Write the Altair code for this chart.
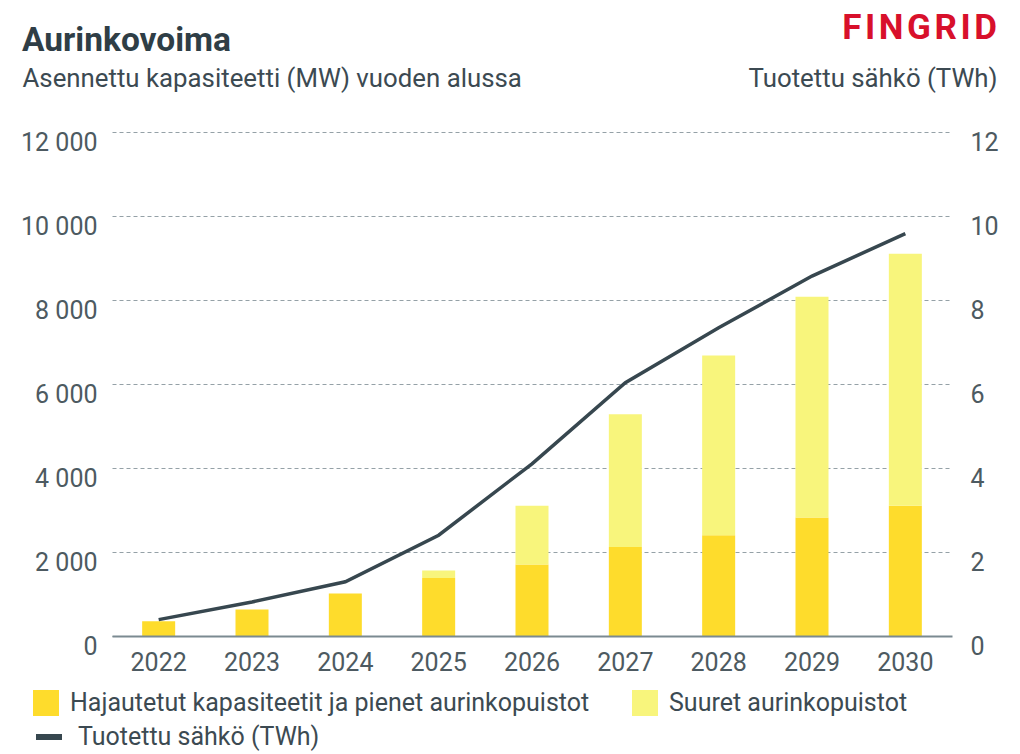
import altair as alt
import pandas as pd

years = ["2022", "2023", "2024", "2025", "2026", "2027", "2028", "2029", "2030"]
small_mw = [350, 630, 1010, 1380, 1700, 2120, 2400, 2820, 3100]
large_mw = [0, 0, 0, 180, 1400, 3160, 4280, 5260, 6000]
energy_twh = [0.39, 0.81, 1.29, 2.40, 4.10, 6.03, 7.34, 8.57, 9.58]

cat_small = "Hajautetut kapasiteetit ja pienet aurinkopuistot"
cat_large = "Suuret aurinkopuistot"
line_name = "Tuotettu sähkö (TWh)"

rows = []
for y, s, l in zip(years, small_mw, large_mw):
    rows.append({"year": y, "type": cat_small, "value": s, "ord": 0})
    rows.append({"year": y, "type": cat_large, "value": l, "ord": 1})
df_bars = pd.DataFrame(rows)
df_line = pd.DataFrame({"year": years, "twh": energy_twh, "series": [line_name] * len(years)})

FONT = "Roboto"
TXT = "#4d5a61"
DARK = "#37474f"

x_axis = alt.Axis(title=None, labelAngle=0, ticks=False, tickSize=0, labelFontSize=25,
                  labelColor=TXT, labelFont=FONT, labelPadding=34, labelBaseline="alphabetic",
                  domainColor="#7b8a91", domainWidth=2, grid=False, zindex=1)

bars = alt.Chart(df_bars).mark_bar(size=33).encode(
    x=alt.X("year:N", sort=years, axis=x_axis, scale=alt.Scale(paddingInner=0, paddingOuter=0)),
    y=alt.Y("value:Q", stack="zero",
            scale=alt.Scale(domain=[0, 12000], nice=False),
            axis=alt.Axis(values=[0, 2000, 4000, 6000, 8000, 10000, 12000],
                          labelExpr="replace(format(datum.value, ','), ',', ' ')",
                          title="Asennettu kapasiteetti (MW) vuoden alussa",
                          titleAngle=0, titleAlign="left", titleBaseline="alphabetic",
                          titleX=-90, titleY=-46, titleFontSize=25.8, titleFontWeight="normal",
                          titleColor="#3c4a52", titleFont=FONT,
                          labelFontSize=25, labelColor=TXT, labelFont=FONT,
                          labelPadding=15, labelBaseline="alphabetic", labelOffset=18,
                          ticks=False, domain=False, grid=True, gridDash=[4, 3],
                          gridColor="#95a1a7", gridWidth=1)),
    color=alt.Color("type:N",
                    scale=alt.Scale(domain=[cat_small, cat_large], range=["#FEDC2C", "#F8F57C"]),
                    legend=alt.Legend(title=None, orient="none", legendX=-79, legendY=558,
                                      direction="horizontal", columns=2, symbolType="square",
                                      symbolSize=676, symbolStrokeWidth=0, labelFontSize=25,
                                      labelFont=FONT, labelColor="#3c4a52", labelOffset=11,
                                      labelLimit=0, columnPadding=42, padding=0)),
    order=alt.Order("ord:Q"),
)

line = alt.Chart(df_line).mark_line(strokeWidth=3.5).encode(
    x=alt.X("year:N", sort=years, axis=x_axis),
    y=alt.Y("twh:Q", scale=alt.Scale(domain=[0, 12], nice=False),
            axis=alt.Axis(orient="right", values=[0, 2, 4, 6, 8, 10, 12],
                          title=line_name, titleAngle=0, titleAlign="right",
                          titleBaseline="alphabetic", titleX=45, titleY=-46,
                          titleFontSize=25.8, titleFontWeight="normal", titleColor="#3c4a52",
                          titleFont=FONT, labelFontSize=25, labelColor=TXT, labelFont=FONT,
                          labelPadding=18, labelBaseline="alphabetic", labelOffset=18,
                          ticks=False, domain=False, grid=False)),
    stroke=alt.Stroke("series:N", scale=alt.Scale(domain=[line_name], range=[DARK]),
                      legend=alt.Legend(title=None, orient="none", legendX=-79, legendY=589,
                                        symbolType="stroke", symbolSize=676,
                                        symbolStrokeWidth=6, labelFontSize=25, labelFont=FONT,
                                        labelColor="#3c4a52", labelOffset=13, labelLimit=0,
                                        padding=0)),
)

title_txt = alt.Chart(alt.Data(values=[{}])).mark_text(
    text="Aurinkovoima", font=FONT, fontSize=33.5, fontWeight="bold", color="#2f3e46",
    align="left", baseline="alphabetic").encode(x=alt.value(-90), y=alt.value(-81))

logo_txt = alt.Chart(alt.Data(values=[{}])).mark_text(
    text="F\u200aI\u200aN\u200aG\u200aR\u200aI\u200aD", font=FONT, fontSize=35,
    fontWeight="bold", color="#D8102B",
    align="right", baseline="alphabetic").encode(x=alt.value(885), y=alt.value(-93))

chart = alt.layer(bars, line, title_txt, logo_txt).resolve_scale(
    y="independent", color="independent", stroke="independent"
).properties(
    width=840, height=504,
    background="white",
    autosize=alt.AutoSizeParams(type="none"),
    padding={"left": 104, "top": 124, "right": 52, "bottom": 118},
).configure_view(stroke=None)

chart.save("out.html", embed_options={"renderer": "svg", "actions": False})
